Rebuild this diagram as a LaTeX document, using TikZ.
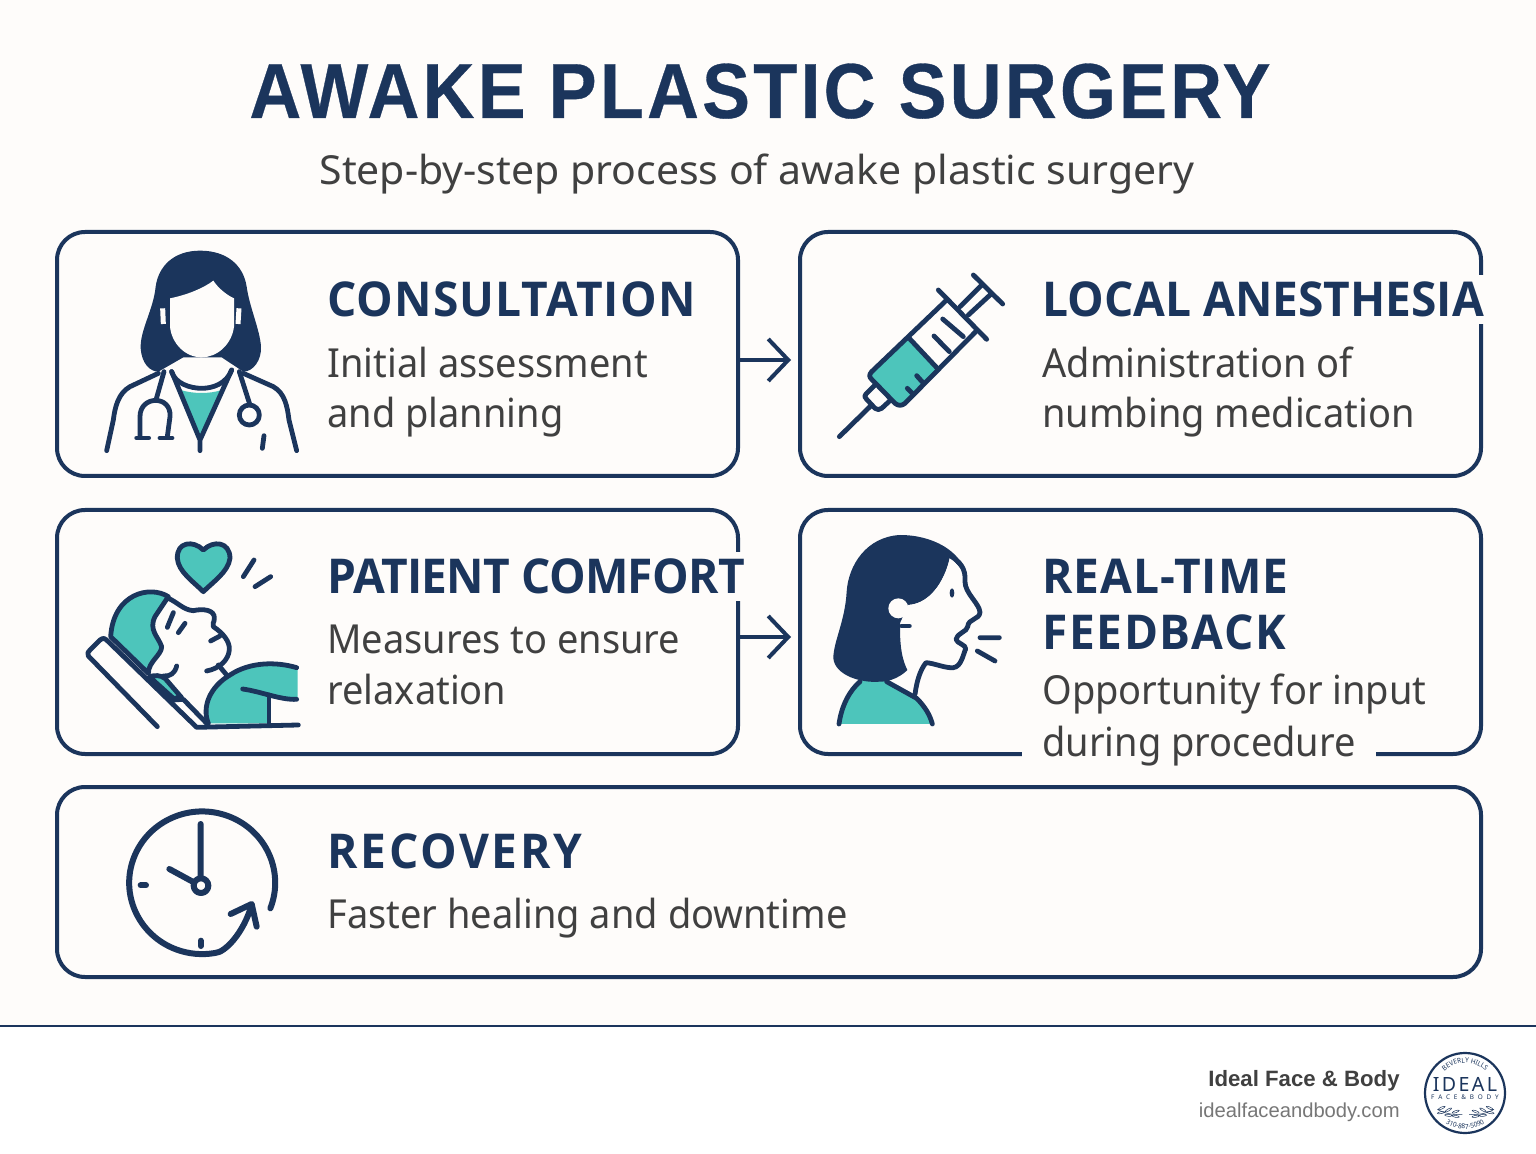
\documentclass[tikz,border=0pt]{standalone}
\usepackage{fontspec}
\setmainfont{Noto Sans}[FakeStretch=0.95]
\newfontfamily\subfont{Noto Sans}[FakeStretch=1.025]
\newfontfamily\headfont{Open Sans Bold}[FakeStretch=0.96]
\newfontfamily\titlefont{Liberation Sans Bold}[FakeStretch=0.92,LetterSpace=4.2,FakeBold=0.4]
\newfontfamily\brandfont{Liberation Sans Bold}
\newfontfamily\urlfont{Liberation Sans}
\newfontfamily\logofont{Noto Sans}[LetterSpace=12]
\newfontfamily\logosubfont{Noto Sans}[LetterSpace=60]
\newcommand{\headspace}[1]{\addfontfeature{LetterSpace=#1}}
\usetikzlibrary{arrows.meta,decorations.text}
\definecolor{navy}{HTML}{1B355C}
\definecolor{teal}{HTML}{4DC5BB}
\definecolor{paper}{HTML}{FEFCFA}
\definecolor{bodygrey}{HTML}{404040}
\definecolor{urlgrey}{HTML}{777777}
\tikzset{
	stepbox/.style={draw=navy,line width=2pt,rounded corners=14pt,fill=paper,inner sep=0pt},
	smallbox/.style={stepbox,minimum width=340.5pt,minimum height=122pt},
	headtext/.style={anchor=base west,inner sep=0pt,text=navy,font=\headfont\fontsize{24}{24}\selectfont},
	bodytext/.style={anchor=base west,inner sep=0pt,text=bodygrey,font=\fontsize{20}{20}\selectfont},
	gapfill/.style={fill=paper,inner xsep=5pt,inner ysep=3.5pt},
	icon/.style={draw=navy,line width=2.4pt,line cap=round,line join=round},
	flowarrow/.style={draw=navy,line width=2pt,-{Straight Barb[length=10pt,width=21pt,line width=2pt]},shorten >=3.5pt},
	logotext/.style={decorate,decoration={text along path,text align=center,text={|\fontsize{3.4}{3.4}\selectfont\color{navy}|#1}}}
}
\begin{document}
\begin{tikzpicture}[x=0.5pt,y=-0.5pt]
	\useasboundingbox (0,0) rectangle (1536,1154);
	\fill[paper] (0,0) rectangle (1536,1026);
	\fill[white] (0,1026) rectangle (1536,1154);
	\draw[navy,line width=1.4pt] (0,1026) -- (1536,1026);

	\node[anchor=base,inner sep=0pt,text=navy,font=\titlefont\fontsize{39}{39}\selectfont] (title) at (760,118) {AWAKE PLASTIC SURGERY};
	\node[anchor=base,inner sep=0pt,text=bodygrey,font=\subfont\fontsize{20}{20}\selectfont] (subtitle) at (757,185) {Step-by-step process of awake plastic surgery};

	% the five boxes
	\node[smallbox] (consult) at (397.5,354) {};
	\node[smallbox] (local) at (1140.5,354) {};
	\node[smallbox] (comfort) at (397.5,632) {};
	\node[smallbox] (feedback) at (1140.5,632) {};
	\node[stepbox,minimum width=712pt,minimum height=95pt] (recovery) at (769,882) {};

	\draw[flowarrow] ([yshift=-3pt]consult.east) -- ([yshift=-3pt]local.west);
	\draw[flowarrow] ([yshift=-2.5pt]comfort.east) -- ([yshift=-2.5pt]feedback.west);

	% texts
	\node[headtext] (consulthead) at (327,317) {\headspace{2.3}CONSULTATION};
	\node[bodytext] (consultone) at (327,378) {Initial assessment};
	\node[bodytext] (consulttwo) at (327,428) {and planning};

	\node[headtext,gapfill,anchor=base west,xshift=-5pt] (localhead) at (1042,317) {LOCAL ANESTHESIA};
	\node[bodytext] (localone) at (1042,378) {Administration of};
	\node[bodytext] (localtwo) at (1042,428) {numbing medication};

	\node[headtext,gapfill,xshift=-5pt] (comforthead) at (327,594) {\headspace{-1.5}PATIENT COMFORT};
	\node[bodytext] (comfortone) at (327,653) {Measures to ensure};
	\node[bodytext] (comforttwo) at (327,704) {relaxation};

	\node[headtext] (feedbackhead) at (1042,594) {\headspace{2}REAL-TIME};
	\node[headtext] (feedbackheadb) at (1042,649) {\headspace{3.4}FEEDBACK};
	\node[bodytext] (feedbackone) at (1042,704) {Opportunity for input};
	\node[bodytext,gapfill,inner xsep=10pt,inner ysep=1pt,xshift=-10pt] (feedbacktwo) at (1042,756) {during procedure};

	\node[headtext] (recoveryhead) at (327,868) {\headspace{5.7}RECOVERY};
	\node[bodytext] (recoveryone) at (327,928) {Faster healing and downtime};

	% doctor
	\begin{scope}[shift={(90,240)},scale=1/3]
		\fill[navy] (330,32) .. controls (250,32) and (205,80) .. (197,140) .. controls (190,210) and (150,270) .. (152,325) .. controls (155,370) and (180,395) .. (205,395) -- (280,352) -- (395,352) -- (460,395) .. controls (490,395) and (515,360) .. (513,320) .. controls (510,270) and (478,200) .. (470,140) .. controls (460,75) and (410,32) .. (330,32) -- cycle;
		\fill[paper] (240,175) .. controls (290,165) and (340,145) .. (370,122) .. controls (385,145) and (410,165) .. (432,175) -- (432,260) .. controls (425,315) and (380,352) .. (335,352) .. controls (285,352) and (245,310) .. (240,260) -- cycle;
		\draw[paper,line width=2.5pt] (218,205) -- (220,252) (447,205) -- (444,252);
		\fill[teal] (272,450) .. controls (310,462) and (360,462) .. (395,450) -- (332,590) -- cycle;
		\draw[icon] (245,395) .. controls (255,430) and (300,445) .. (335,445) .. controls (370,445) and (410,430) .. (425,390);
		\draw[icon] (245,395) -- (330,600) -- (425,390) (330,600) -- (330,632);
		\draw[icon] (205,400) -- (120,440) .. controls (85,460) and (75,500) .. (70,540) -- (50,632);
		\draw[icon] (460,400) -- (550,440) .. controls (585,460) and (592,500) .. (597,540) -- (620,632);
		\draw[icon] (222,395) -- (198,480);
		\draw[icon] (150,590) -- (150,530) .. controls (150,465) and (245,465) .. (240,530) -- (232,590);
		\draw[icon] (140,594) -- (176,594) (210,594) -- (246,594);
		\draw[icon] (448,395) -- (480,495);
		\draw[icon] (478,525) circle[radius=30];
		\draw[icon] (522,587) -- (517,625);
	\end{scope}

	% syringe
	\begin{scope}[shift={(820,260)},scale=1/3]
		\fill[teal] (265,232) -- (352,325) -- (255,428) .. controls (240,436) and (232,432) .. (225,425) -- (160,360) .. controls (150,350) and (150,340) .. (160,335) -- cycle;
		\draw[icon] (380,120) -- (155,335) .. controls (147,345) and (147,350) .. (155,358) -- (225,430) .. controls (235,438) and (245,438) .. (255,430) -- (470,212);
		\draw[icon] (265,232) -- (352,325);
		\draw[icon] (355,90) -- (500,238);
		\draw[icon] (342,228) -- (388,275) (368,177) -- (430,230);
		\draw[icon] (290,347) -- (308,367) (262,385) -- (280,403);
		\draw[icon] (420,140) -- (485,75) (445,165) -- (510,105) (460,45) -- (548,132);
		\draw[icon] (165,375) -- (138,402) .. controls (132,410) and (135,412) .. (140,418) -- (165,445) .. controls (172,450) and (178,450) .. (185,445) -- (212,420);
		\draw[icon] (58,530) -- (155,435);
	\end{scope}

	% patient in bed
	\begin{scope}[shift={(80,530)},scale=1/3]
		\filldraw[icon,fill=teal] (370,60) .. controls (340,30) and (290,35) .. (292,85) .. controls (295,125) and (340,155) .. (370,185) .. controls (400,155) and (445,125) .. (450,85) .. controls (450,35) and (400,30) .. (370,60) -- cycle;
		\draw[icon] (490,140) -- (522,90) (525,170) -- (572,140);
		\filldraw[icon,fill=teal] (265,200) .. controls (210,165) and (100,190) .. (92,320) -- (205,430) .. controls (205,395) and (245,375) .. (245,350) .. controls (235,320) and (205,300) .. (225,260) -- cycle;
		\draw[icon] (265,205) .. controls (290,215) and (310,240) .. (340,242) .. controls (370,235) and (405,240) .. (403,265) .. controls (403,280) and (395,280) .. (400,290) .. controls (430,310) and (450,335) .. (448,360) .. controls (445,390) and (420,415) .. (380,423);
		\draw[icon] (280,248) -- (262,292) (315,280) -- (295,308) (392,333) -- (420,318);
		\draw[icon] (290,408) .. controls (285,430) and (270,440) .. (250,438);
		\draw[icon] (415,405) -- (440,435);
		\filldraw[icon,fill=teal] (208,440) .. controls (225,435) and (240,435) .. (255,445) -- (305,503) -- (280,505) -- cycle;
		\fill[teal] (385,580) .. controls (365,530) and (390,470) .. (450,435) .. controls (510,395) and (590,395) .. (653,415) -- (653,508) -- (567,492) -- (567,580) -- cycle;
		\draw[icon] (385,580) .. controls (365,530) and (390,470) .. (450,435) .. controls (510,395) and (590,395) .. (650,413);
		\draw[icon] (488,477) .. controls (545,485) and (600,510) .. (650,508);
		\draw[icon] (567,495) -- (567,585);
		\draw[icon] (232,590) -- (25,378) .. controls (20,370) and (25,365) .. (30,360) -- (60,330) .. controls (70,322) and (75,325) .. (85,335) -- (350,592) -- (655,585);
		\draw[icon] (280,510) -- (310,508) -- (380,580);
	\end{scope}

	% woman speaking
	\begin{scope}[shift={(820,525)},scale=1/3]
		\fill[teal] (57,597) .. controls (65,540) and (90,495) .. (120,465) -- (200,465) -- (290,520) .. controls (315,545) and (330,570) .. (337,597) -- cycle;
		\draw[icon] (57,597) .. controls (65,540) and (90,495) .. (120,470) (200,470) -- (290,520) .. controls (315,545) and (330,570) .. (337,597);
		\fill[navy] (438,150) .. controls (425,80) and (340,30) .. (240,30) .. controls (140,35) and (85,120) .. (80,200) .. controls (75,290) and (40,350) .. (40,400) .. controls (45,450) and (120,475) .. (180,470) .. controls (230,470) and (262,435) .. (262,435) .. controls (240,390) and (240,340) .. (240,300) -- (265,240) .. controls (340,235) and (380,150) .. (390,95) -- cycle;
		\fill[paper] (438,150) -- (390,95) .. controls (380,150) and (340,235) .. (265,240) -- (240,295) -- (300,350) -- (440,300) -- cycle;
		\fill[paper] (235,250) circle[radius=30];
		\draw[icon] (268,303) -- (245,303);
		\draw[icon] (390,92) .. controls (420,110) and (438,130) .. (435,170) .. controls (435,205) and (478,235) .. (480,262) .. controls (478,285) and (445,280) .. (443,305) .. controls (442,320) and (410,325) .. (408,343) .. controls (410,355) and (440,360) .. (437,372) .. controls (430,385) and (425,425) .. (400,428) .. controls (375,430) and (345,415) .. (318,413) .. controls (300,435) and (290,470) .. (285,508);
		\fill[navy] (396,204) ellipse[x radius=7,y radius=14];
		\draw[icon] (480,338) -- (538,338) (472,378) -- (525,408);
	\end{scope}

	% clock
	\begin{scope}[shift={(110,800)},scale=1/3]
		\begin{scope}[icon,line width=3pt]
			\draw (481,325) arc[start angle=21,end angle=-280,x radius=219,y radius=214] .. controls (345,458) and (400,400) .. (425,315);
			\draw (362,342) -- (425,312) -- (440,380);
			\draw (272,72) -- (272,230) (178,207) -- (248,245);
			\draw (273,257) circle[radius=22];
			\draw (92,256) -- (108,256) (272,422) -- (272,438);
		\end{scope}
	\end{scope}

	% footer
	\node[anchor=base east,inner sep=0pt,text=bodygrey,font=\brandfont\fontsize{11.1}{11.1}\selectfont] (brand) at (1400,1086) {Ideal Face \& Body};
	\node[anchor=base east,inner sep=0pt,text=urlgrey,font=\urlfont\fontsize{10.1}{10.1}\selectfont] (website) at (1400,1117) {idealfaceandbody.com};

	% logo
	\draw[navy,line width=1.1pt] (1465,1093) circle[radius=40];
	\node[inner sep=0pt,text=navy,font=\logofont\fontsize{9.8}{9.8}\selectfont] (logoname) at (1465,1084) {IDEAL};
	\node[inner sep=0pt,text=navy,font=\logosubfont\fontsize{3.2}{3.2}\selectfont] (logosub) at (1465,1097) {FACE\&BODY};
	\path[logotext=BEVERLY HILLS] (1439,1078) arc[start angle=-150,end angle=-30,radius=30];
	\path[logotext=310-887-5090] (1434,1111) arc[start angle=150,end angle=30,radius=36];
	\begin{scope}[shift={(1420,1046)},scale=1/3]
		\foreach \m in {1,-1} {
			\begin{scope}[shift={(137,0)},xscale=\m]
				\draw[navy,line width=0.25pt] (-10,205) .. controls (-40,208) and (-70,200) .. (-85,190);
				\foreach \x/\y/\a in {-30/197/20,-52/192/30,-72/186/25,-30/211/-10,-52/208/-5,-74/200/10} {
					\draw[navy,line width=0.25pt,rotate around={\a:(\x,\y)}] (\x,\y) ellipse[x radius=11,y radius=3];
				}
			\end{scope}
		}
	\end{scope}
\end{tikzpicture}
\end{document}
